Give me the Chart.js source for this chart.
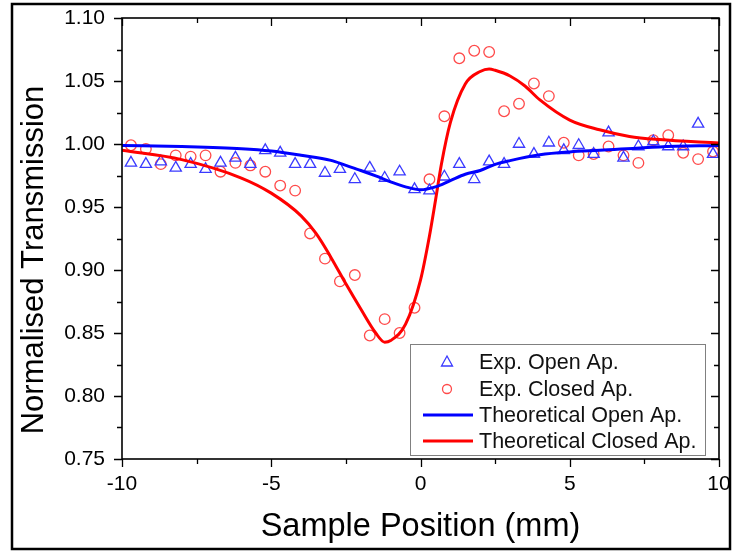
<!DOCTYPE html>
<html>
<head>
<meta charset="utf-8">
<script src="https://cdn.jsdelivr.net/npm/chart.js@4.4.0/dist/chart.umd.min.js"></script>
<style>
  html, body { margin: 0; padding: 0; background: #fff; }
  canvas { display: block; }
</style>
</head>
<body>
<canvas id="zscan" width="732" height="553"></canvas>
<script>
// sample positions of the measured points (mm)
const positions = [-9.7, -9.2, -8.7, -8.2, -7.7, -7.2, -6.7, -6.2, -5.7, -5.2,
                   -4.7, -4.2, -3.7, -3.2, -2.7, -2.2, -1.7, -1.2, -0.7, -0.2,
                    0.3,  0.8,  1.3,  1.8,  2.3,  2.8,  3.3,  3.8,  4.3,  4.8,
                    5.3,  5.8,  6.3,  6.8,  7.3,  7.8,  8.3,  8.8,  9.3,  9.8];

const expOpen = [0.985, 0.984, 0.986, 0.981, 0.984, 0.980, 0.985, 0.989, 0.984, 0.995,
                 0.993, 0.984, 0.984, 0.977, 0.980, 0.972, 0.981, 0.973, 0.978, 0.964,
                 0.963, 0.974, 0.984, 0.972, 0.986, 0.984, 1.000, 0.992, 1.001, 0.995,
                 0.999, 0.992, 1.009, 0.989, 0.998, 1.002, 0.998, 0.998, 1.016, 0.992];

const expClosed = [0.999, 0.996, 0.984, 0.991, 0.990, 0.991, 0.978, 0.985, 0.983, 0.978,
                   0.967, 0.963, 0.929, 0.909, 0.891, 0.896, 0.848, 0.861, 0.850, 0.870,
                   0.972, 1.022, 1.068, 1.074, 1.073, 1.026, 1.032, 1.048, 1.038, 1.001,
                   0.991, 0.992, 0.998, 0.991, 0.985, 1.003, 1.007, 0.993, 0.988, 0.994];

// theoretical fits
const openFitX = [-10, -8, -6, -5, -4, -3, -2.5, -2, -1.5, -1, -0.5, 0,
                  0.5, 1, 1.5, 2, 2.5, 3, 4, 5, 6, 8, 10];
const openFit  = [0.9989, 0.998, 0.9963, 0.9944, 0.991, 0.987, 0.983, 0.979, 0.9747, 0.970, 0.966, 0.9637,
                  0.966, 0.971, 0.976, 0.979, 0.9838, 0.9868, 0.9914, 0.9937, 0.995, 0.9977, 0.9989];

const closedFitX = [-10, -8, -6, -5, -4, -3.5, -3, -2.5, -2, -1.5, -1.2, -1, -0.5, 0,
                    0.3, 0.5, 0.7, 1, 1.5, 2, 2.3, 2.5, 3, 3.5, 4, 5, 6, 7, 8, 10];
const closedFit  = [0.995, 0.9876, 0.973, 0.961, 0.943, 0.929, 0.910, 0.889, 0.869, 0.850, 0.8427, 0.844, 0.857, 0.892,
                    0.927, 0.955, 0.984, 1.017, 1.0476, 1.0575, 1.0595, 1.0585, 1.054, 1.046, 1.035, 1.019, 1.0113, 1.006, 1.0035, 1.0007];

// axis ticks
const xMajor = [-10, -5, 0, 5, 10];
const xMinor = [-7.5, -2.5, 2.5, 7.5];
const yMajor = [0.75, 0.80, 0.85, 0.90, 0.95, 1.00, 1.05, 1.10];
const yMinor = [0.775, 0.825, 0.875, 0.925, 0.975, 1.025, 1.075];

const FONT = "'Liberation Sans', Arial, sans-serif";

const pts = (xs, ys) => xs.map((x, i) => ({ x: x, y: ys[i] }));

// axes box, ticks, titles, outer frame, legend
const decorations = {
  id: 'decorations',
  afterDraw(chart) {
    const { ctx, chartArea: a, scales: { x, y } } = chart;
    ctx.save();
    ctx.strokeStyle = '#000';
    ctx.lineWidth = 1.3;
    ctx.beginPath();
    const yt = (v, len) => {
      const p = Math.round(y.getPixelForValue(v)) + 0.5;
      ctx.moveTo(a.left - len, p); ctx.lineTo(a.left, p);
      ctx.moveTo(a.right - len, p); ctx.lineTo(a.right, p);
    };
    const xt = (v, len) => {
      const p = Math.round(x.getPixelForValue(v)) + 0.5;
      ctx.moveTo(p, a.bottom); ctx.lineTo(p, a.bottom + len);
      ctx.moveTo(p, a.top); ctx.lineTo(p, a.top + len);
    };
    yMajor.forEach(v => yt(v, 8));
    yMinor.forEach(v => yt(v, 5));
    xMajor.forEach(v => xt(v, 8));
    xMinor.forEach(v => xt(v, 5));
    ctx.stroke();

    ctx.lineWidth = 1.6;
    ctx.strokeRect(a.left, a.top, a.right - a.left, a.bottom - a.top);

    ctx.lineWidth = 2.5;
    ctx.strokeRect(12, 4, 718, 545);

    // axis titles
    ctx.fillStyle = '#000';
    ctx.font = '32.5px ' + FONT;
    ctx.textAlign = 'center';
    ctx.textBaseline = 'middle';
    ctx.fillText('Sample Position (mm)', (a.left + a.right) / 2, 527);
    ctx.font = '31px ' + FONT;
    ctx.save();
    ctx.translate(34, 260);
    ctx.rotate(-Math.PI / 2);
    ctx.fillText('Normalised Transmission', 0, 0);
    ctx.restore();

    // legend
    ctx.fillStyle = '#fff';
    ctx.fillRect(410, 344, 295, 111);
    ctx.strokeStyle = '#808080';
    ctx.lineWidth = 1;
    ctx.strokeRect(410.5, 344.5, 295, 111);
    const rows = [362, 389, 415, 441];
    const mx = 447;
    ctx.lineWidth = 1.3;
    ctx.strokeStyle = '#3a3aff';
    ctx.beginPath();
    ctx.moveTo(mx, rows[0] - 6); ctx.lineTo(mx + 5.5, rows[0] + 4); ctx.lineTo(mx - 5.5, rows[0] + 4); ctx.closePath();
    ctx.stroke();
    ctx.strokeStyle = '#ff4a4a';
    ctx.beginPath();
    ctx.arc(mx, rows[1], 4.5, 0, Math.PI * 2);
    ctx.stroke();
    ctx.lineWidth = 3;
    ctx.strokeStyle = '#0000ff';
    ctx.beginPath(); ctx.moveTo(423, rows[2]); ctx.lineTo(473, rows[2]); ctx.stroke();
    ctx.strokeStyle = '#ff0000';
    ctx.beginPath(); ctx.moveTo(423, rows[3]); ctx.lineTo(473, rows[3]); ctx.stroke();
    ctx.fillStyle = '#111';
    ctx.font = '21.5px ' + FONT;
    ctx.textAlign = 'left';
    const names = ['Exp. Open Ap.', 'Exp. Closed Ap.', 'Theoretical Open Ap.', 'Theoretical Closed Ap.'];
    names.forEach((n, i) => ctx.fillText(n, 479, rows[i] + 1));
    ctx.restore();
  }
};

new Chart(document.getElementById('zscan'), {
  type: 'scatter',
  data: {
    datasets: [
      {
        type: 'line',
        label: 'Theoretical Open Ap.',
        data: pts(openFitX, openFit),
        borderColor: '#0000ff',
        borderWidth: 3,
        pointRadius: 0,
        cubicInterpolationMode: 'monotone',
        fill: false,
        order: 0
      },
      {
        type: 'line',
        label: 'Theoretical Closed Ap.',
        data: pts(closedFitX, closedFit),
        borderColor: '#ff0000',
        borderWidth: 3,
        pointRadius: 0,
        cubicInterpolationMode: 'monotone',
        fill: false,
        order: 1
      },
      {
        label: 'Exp. Open Ap.',
        data: pts(positions, expOpen),
        pointStyle: 'triangle',
        pointRadius: 6.5,
        pointBorderWidth: 1.3,
        pointBorderColor: '#3a3aff',
        pointBackgroundColor: 'rgba(0,0,0,0)',
        order: 2
      },
      {
        label: 'Exp. Closed Ap.',
        data: pts(positions, expClosed),
        pointStyle: 'circle',
        pointRadius: 5.3,
        pointBorderWidth: 1.3,
        pointBorderColor: '#ff4a4a',
        pointBackgroundColor: 'rgba(0,0,0,0)',
        order: 3
      }
    ]
  },
  options: {
    responsive: false,
    animation: false,
    layout: { padding: { left: 0, top: 18, right: 13, bottom: 0 } },
    plugins: {
      legend: { display: false },
      tooltip: { enabled: false }
    },
    scales: {
      x: {
        type: 'linear',
        min: -10,
        max: 10,
        afterFit: s => { s.height = 94; s.paddingLeft = 0; s.paddingRight = 0; },
        grid: { display: false, drawTicks: false },
        border: { display: false },
        ticks: {
          stepSize: 5,
          autoSkip: false,
          maxRotation: 0,
          padding: 13,
          color: '#000',
          font: { family: FONT, size: 21 }
        }
      },
      y: {
        min: 0.75,
        max: 1.10,
        afterFit: s => { s.width = 122; s.paddingTop = 0; s.paddingBottom = 0; },
        grid: { display: false, drawTicks: false },
        border: { display: false },
        ticks: {
          stepSize: 0.05,
          padding: 17,
          color: '#000',
          font: { family: FONT, size: 21 },
          callback: v => v.toFixed(2)
        }
      }
    }
  },
  plugins: [decorations]
});
</script>
</body>
</html>
